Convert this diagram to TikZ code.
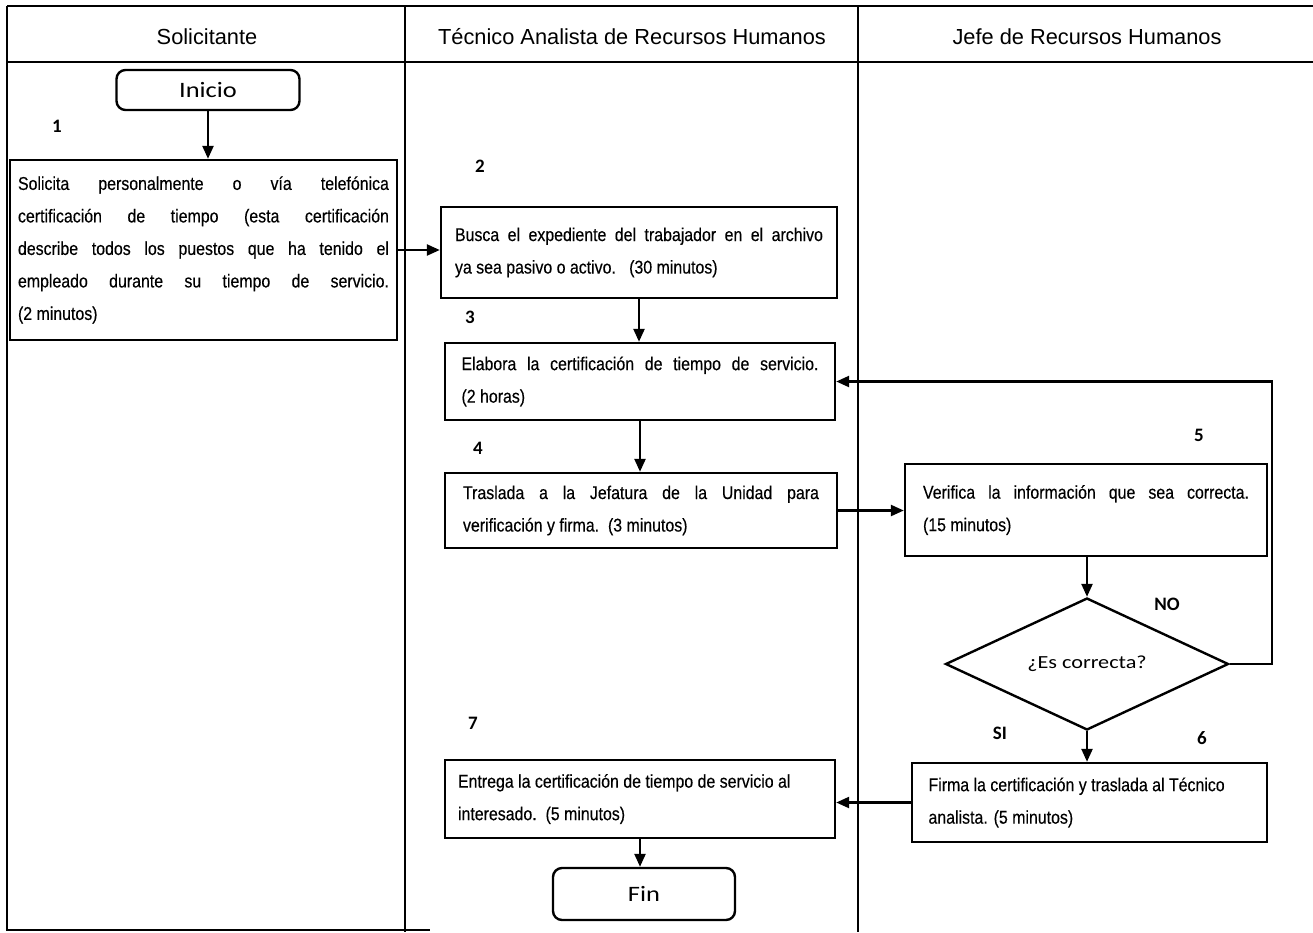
\documentclass[tikz,border=0pt]{standalone}
\usepackage{fontspec}
\setmainfont{Liberation Sans}
\newfontfamily\narrowf[FakeStretch=0.86,FakeBold=0.3]{Liberation Sans}
\newfontfamily\calib{Carlito}
\newfontfamily\calibw[FakeStretch=1.2]{Carlito}
\usetikzlibrary{arrows.meta,shapes.geometric}
\begin{document}
\begin{tikzpicture}[x=1pt,y=-1pt,
  lane/.style={line width=2.4pt},
  stepbox/.style={draw,line width=2.4pt,rectangle,align=justify,inner xsep=0pt,
     font=\narrowf\fontsize{18.5}{32.5}\selectfont},
  term/.style={draw,line width=2.4pt,rounded corners=9pt,font=\calibw\fontsize{22}{26}\selectfont},
  num/.style={font=\calib\bfseries\fontsize{19}{22}\selectfont},
  hdr/.style={font=\fontsize{21.8}{26}\selectfont},
  arr/.style={line width=2.4pt,-{Triangle[length=13pt,width=11pt]}}]
\useasboundingbox (0,0) rectangle (1313,932);
% lanes
\draw[lane] (7,6) -- (1313,6);
\draw[lane] (7,62) -- (1313,62);
\draw[lane] (7,6) -- (7,930) -- (430,930);
\draw[lane] (405,6) -- (405,932);
\draw[lane] (858,6) -- (858,932);
\node[hdr] (h1) at (207,37) {Solicitante};
\node[hdr] (h2) at (632,37) {Técnico Analista de Recursos Humanos};
\node[hdr] (h3) at (1087,37) {Jefe de Recursos Humanos};
% nodes
\node[term,minimum width=183pt,minimum height=40pt] (ini) at (208,90) {Inicio};
\node[stepbox,minimum width=387pt,minimum height=180pt,text width=371pt] (b1) at (203.5,250)
 {Solicita personalmente o vía telefónica\linebreak certificación de tiempo (esta certificación\linebreak describe todos los puestos que ha tenido el\linebreak empleado durante su tiempo de servicio.\linebreak (2 minutos)};
\node[stepbox,minimum width=396pt,minimum height=91pt,text width=368pt] (b2) at (639,252.5)
 {Busca el expediente del trabajador en el archivo\linebreak ya sea pasivo o activo.\ \ \ (30 minutos)};
\node[stepbox,minimum width=390pt,minimum height=77pt,text width=357pt] (b3) at (640,381.5)
 {Elabora la certificación de tiempo de servicio.\linebreak (2 horas)};
\node[stepbox,minimum width=392pt,minimum height=75pt,text width=356pt] (b4) at (641,510.5)
 {Traslada a la Jefatura de la Unidad para\linebreak verificación y firma.\ \ (3 minutos)};
\node[stepbox,minimum width=362pt,minimum height=92pt,text width=326pt] (b5) at (1086,510)
 {Verifica la información que sea correcta.\linebreak (15 minutos)};
\node[draw,line width=2.4pt,diamond,aspect=2.1,minimum width=283pt,minimum height=132pt,inner sep=0pt,
  font=\calibw\fontsize{18.5}{22}\selectfont] (d) at (1087,664) {\raisebox{-4pt}{¿Es correcta?}};
\node[stepbox,minimum width=355pt,minimum height=79pt,text width=322pt] (b6) at (1089.5,802.5)
 {Firma la certificación y traslada al Técnico\\ analista. (5 minutos)};
\node[stepbox,minimum width=390pt,minimum height=78pt,text width=364pt] (b7) at (640,799)
 {Entrega la certificación de tiempo de servicio al\\ interesado.\ \ (5 minutos)};
\node[term,minimum width=182pt,minimum height=52pt] (fin) at (644,894) {Fin};
% numbers
\node[num] (n1) at (57,126) {1};
\node[num] (n2) at (480,166) {2};
\node[num] (n3) at (470,317) {3};
\node[num] (n4) at (478,448) {4};
\node[num] (n5) at (1199,435) {5};
\node[num] (n6) at (1202,738) {6};
\node[num] (n7) at (473,723) {7};
\node[num] (no) at (1167,604) {NO};
\node[num] (si) at (1000,733) {SI};
% connectors
\coordinate (loopx) at (1272,0);
\draw[arr] (ini.south) -- (ini.south |- b1.north);
\draw[arr] (b1.east) -- (b1.east -| b2.west);
\draw[arr] (b2.south) -- (b2.south |- b3.north);
\draw[arr] (b3.south) -- (b3.south |- b4.north);
\draw[arr] (b4.east) -- (b4.east -| b5.west);
\draw[arr] (b5.south -| d.north) -- (d.north);
\draw[arr] (d.east) -| (loopx |- b3.east) -- (b3.east);
\draw[arr] (d.south) -- (d.south |- b6.north);
\draw[arr] (b6.west) -- (b6.west -| b7.east);
\draw[arr] (b7.south) -- (b7.south |- fin.north);
\end{tikzpicture}
\end{document}
